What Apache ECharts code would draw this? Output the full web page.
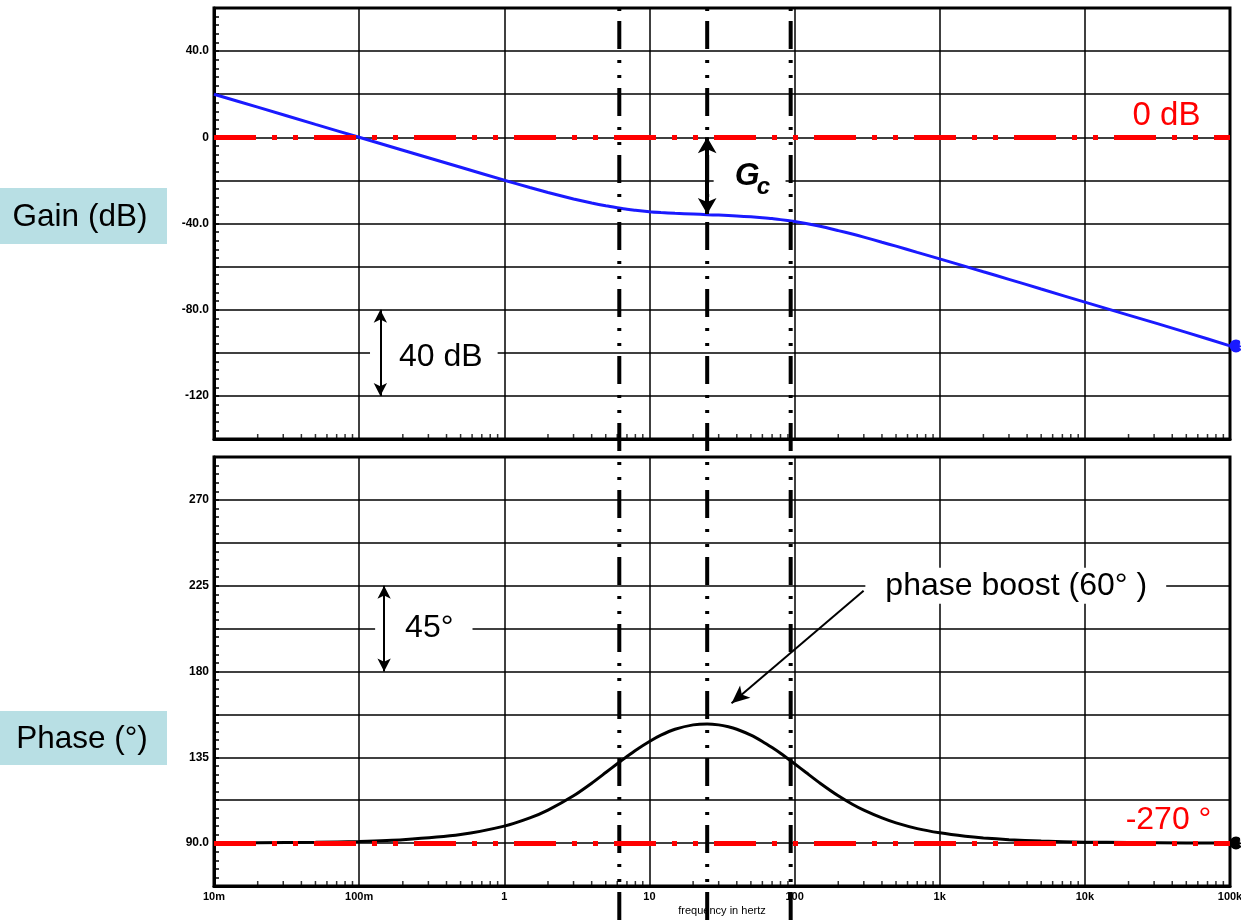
<!DOCTYPE html>
<html>
<head>
<meta charset="utf-8">
<script src="https://cdn.jsdelivr.net/npm/echarts@6/dist/echarts.min.js"></script>
<style>
html, body { margin: 0; padding: 0; background: #fff; }
#bode { width: 1241px; height: 920px; }
</style>
</head>
<body>
<div id="bode"></div>
<script>
// values (frequency in Hz)
const freq = [0.01, 0.02, 0.05, 0.1, 0.2, 0.5, 1, 1.5, 2, 3, 4, 5, 6, 7, 8,
  10, 12, 15, 20, 25, 30, 35, 40, 50, 60, 70, 80,
  100, 120, 150, 200, 250, 300, 400, 500, 700,
  1000, 1500, 2000, 3000, 5000, 10000, 20000, 50000, 100000];
const gainDb = [20.0, 14.0, 6.0, 0.0, -6.0, -13.9, -19.9, -23.3, -25.6, -28.6, -30.5, -31.8, -32.7, -33.4, -33.8,
  -34.5, -34.9, -35.3, -35.6, -35.9, -36.1, -36.3, -36.5, -36.9, -37.3, -37.7, -38.2,
  -39.1, -40.0, -41.3, -43.3, -44.9, -46.3, -48.7, -50.5, -53.4,
  -56.4, -59.9, -62.4, -65.9, -70.4, -76.5, -82.5, -90.5, -96.8];
const phaseDeg = [90.1, 90.2, 90.4, 90.9, 91.8, 94.5, 98.9, 103.2, 107.3, 114.8, 121.4, 127.0, 131.6, 135.4, 138.6,
  143.3, 146.6, 149.7, 152.0, 152.5, 152.0, 151.0, 149.7, 146.6, 143.3, 140.1, 137.1,
  131.6, 127.0, 121.4, 114.8, 110.4, 107.3, 103.2, 100.6, 97.6,
  95.4, 93.6, 92.7, 91.8, 91.1, 90.5, 90.3, 90.1, 90.05];

// zero, crossover and pole frequencies (dash-dot markers)
const markerFreqs = [6.2, 25, 94];

const freqLabels = ["10m", "100m", "1", "10", "100", "1k", "10k", "100k"]; // 1e-2 .. 1e5
const gainLabels = { "40": "40.0", "0": "0", "-40": "-40.0", "-80": "-80.0", "-120": "-120" };
const phaseLabels = { "90": "90.0", "135": "135", "180": "180", "225": "225", "270": "270" };
const minorMantissa = [2, 3, 4, 5, 6, 7, 8, 9];
const decades = [0.01, 0.1, 1, 10, 100, 1000, 10000];

const FONT = "Liberation Sans";
const dashDot = [28, 10, 3, 12, 3, 11];
const redDash = [42, 16, 5, 16, 5, 16];

const chart = echarts.init(document.getElementById("bode"));

const minorTicks = [];
decades.forEach(d => minorMantissa.forEach(m => minorTicks.push(d * m)));

function logAxis(gridIndex, showLabels) {
  return {
    type: "log",
    logBase: 10,
    gridIndex: gridIndex,
    min: 0.01,
    max: 100000,
    splitNumber: 7,
    axisLine: { show: true, onZero: false, lineStyle: { color: "#000", width: 3 } },
    axisTick: { show: false },
    splitLine: { show: true, lineStyle: { color: "#000", width: 1.5 } },
    axisLabel: {
      show: showLabels,
      margin: 5,
      fontFamily: FONT,
      fontSize: 11,
      fontWeight: "bold",
      color: "#000",
      showMinLabel: true,
      showMaxLabel: true,
      hideOverlap: false,
      formatter: v => freqLabels[Math.round(Math.log10(v)) + 2]
    },
    name: showLabels ? "frequency in hertz" : "",
    nameLocation: "middle",
    nameGap: 19,
    nameTextStyle: { fontFamily: FONT, fontSize: 11, color: "#000" }
  };
}

function valueAxis(gridIndex, min, max, interval, labels) {
  return {
    type: "value",
    gridIndex: gridIndex,
    min: min,
    max: max,
    interval: interval,
    axisLine: { show: true, lineStyle: { color: "#000", width: 3 } },
    axisTick: { show: true, inside: true, length: 5, lineStyle: { color: "#000", width: 1.5 } },
    minorTick: { show: true, splitNumber: 5, length: 5, lineStyle: { color: "#000", width: 1.5 } },
    splitLine: { show: true, lineStyle: { color: "#000", width: 1.5 } },
    axisLabel: {
      margin: 5,
      fontFamily: FONT,
      fontSize: 12,
      fontWeight: "bold",
      color: "#000",
      formatter: v => labels[String(Math.round(v * 10) / 10)] || ""
    }
  };
}

function textMark(coord, text, opts) {
  return {
    coord: coord,
    symbol: "circle",
    symbolSize: 1,
    itemStyle: { color: "rgba(0,0,0,0)" },
    label: Object.assign({
      show: true,
      position: "inside",
      formatter: text,
      fontFamily: FONT,
      fontSize: 32,
      color: "#000"
    }, opts || {})
  };
}

function arrow(from, to, width, size, both) {
  return [
    { coord: from, symbol: both ? "arrow" : "none", symbolSize: size },
    { coord: to, symbol: "arrow", symbolSize: size, lineStyle: { color: "#000", width: width, type: "solid" } }
  ];
}

function badge(coord, color) {
  return {
    coord: coord,
    symbol: "circle",
    symbolSize: 13,
    symbolOffset: [6, 0],
    itemStyle: { color: color },
    label: { show: true, position: "inside", offset: [6, 0], formatter: "5", color: "#fff", fontSize: 10, fontFamily: FONT }
  };
}

const option = {
  animation: false,
  backgroundColor: "#fff",
  grid: [
    { left: 214, top: 8, width: 1016, height: 431, show: true, borderColor: "#000", borderWidth: 3, outerBoundsMode: "none", containLabel: false },
    { left: 214, top: 457, width: 1016, height: 429, show: true, borderColor: "#000", borderWidth: 3, outerBoundsMode: "none", containLabel: false },
    { left: 214, top: 8, width: 1016, height: 912, outerBoundsMode: "none", containLabel: false }
  ],
  xAxis: [
    logAxis(0, false),
    logAxis(1, true),
    { type: "log", gridIndex: 2, min: 0.01, max: 100000, show: false }
  ],
  yAxis: [
    valueAxis(0, -140, 60, 20, gainLabels),
    valueAxis(1, 67.5, 292.5, 22.5, phaseLabels),
    { type: "value", gridIndex: 2, min: 0, max: 1, show: false }
  ],
  graphic: [
    { type: "rect", shape: { x: 0, y: 188, width: 167, height: 56 }, style: { fill: "#b8dfe4" } },
    { type: "text", style: { text: "Gain (dB)", x: 80, y: 217, align: "center", verticalAlign: "middle",
        fontFamily: FONT, fontSize: 31.5, fill: "#000" } },
    { type: "rect", shape: { x: 0, y: 711, width: 167, height: 54 }, style: { fill: "#b8dfe4" } },
    { type: "text", style: { text: "Phase (°)", x: 82, y: 739, align: "center", verticalAlign: "middle",
        fontFamily: FONT, fontSize: 31.5, fill: "#000" } }
  ],
  series: [
    {
      name: "gain",
      type: "line",
      xAxisIndex: 0,
      yAxisIndex: 0,
      data: freq.map((f, i) => [f, gainDb[i]]),
      showSymbol: false,
      smooth: 0.2,
      lineStyle: { color: "#1a1aff", width: 3 },
      markLine: {
        silent: true,
        z: 7,
        symbol: "none",
        label: { show: false },
        data: [
          [{ coord: [0.01, 0], symbol: "none" }, { coord: [100000, 0], symbol: "none", lineStyle: { color: "#ff0000", width: 5, type: redDash } }],
          arrow([25, 0], [25, -35.6], 4, [14, 16], true),
          arrow([0.14, -80], [0.14, -120], 2, [10, 13], true)
        ]
      },
      markPoint: {
        silent: true,
        z: 6,
        data: [
          textMark([36500, 9.8], "0 dB", { color: "#ff0000", fontSize: 33 }),
          textMark([0.327, -102], "40 dB", { backgroundColor: "#fff", padding: [2, 15, 2, 29] }),
          textMark([49, -18.1], "G", { fontWeight: "bold", fontStyle: "italic", backgroundColor: "#fff", padding: [0, 26, 0, 21] }),
          textMark([61, -23.3], "c", { fontWeight: "bold", fontStyle: "italic", fontSize: 24 }),
          badge([100000, -96.8], "#1a1aff")
        ]
      }
    },
    {
      name: "phase",
      type: "line",
      xAxisIndex: 1,
      yAxisIndex: 1,
      data: freq.map((f, i) => [f, phaseDeg[i]]),
      showSymbol: false,
      smooth: 0.2,
      lineStyle: { color: "#000", width: 3 },
      markLine: {
        silent: true,
        z: 7,
        symbol: "none",
        label: { show: false },
        data: [
          [{ coord: [0.01, 90], symbol: "none" }, { coord: [100000, 90], symbol: "none", lineStyle: { color: "#ff0000", width: 5, type: redDash } }],
          arrow([0.1486, 225], [0.1486, 180], 2, [10, 13], true),
          arrow([299, 222.4], [36.8, 163.3], 2, [12, 18], false)
        ]
      },
      markPoint: {
        silent: true,
        z: 6,
        data: [
          textMark([37700, 102], "-270 °", { color: "#ff0000" }),
          textMark([0.279, 202.5], "45°", { backgroundColor: "#fff", padding: [2, 19, 2, 30] }),
          textMark([3342, 225], "phase boost (60° )", { backgroundColor: "#fff", padding: [2, 19, 2, 20] }),
          badge([100000, 90.05], "#000")
        ]
      }
    },
    {
      name: "gain minor ticks",
      type: "scatter",
      xAxisIndex: 0,
      yAxisIndex: 0,
      silent: true,
      clip: false,
      data: minorTicks.map(f => [f, -140]),
      symbol: "rect",
      symbolSize: [1.5, 5],
      symbolOffset: [0, -2.5],
      itemStyle: { color: "#000" }
    },
    {
      name: "phase minor ticks",
      type: "scatter",
      xAxisIndex: 1,
      yAxisIndex: 1,
      silent: true,
      clip: false,
      data: minorTicks.map(f => [f, 67.5]),
      symbol: "rect",
      symbolSize: [1.5, 5],
      symbolOffset: [0, -2.5],
      itemStyle: { color: "#000" }
    }
  ].concat(markerFreqs.map(f => ({
    name: "marker " + f,
    type: "line",
    xAxisIndex: 2,
    yAxisIndex: 2,
    silent: true,
    z: 5,
    showSymbol: false,
    data: [[f, 0], [f, 1]],
    lineStyle: { color: "#000", width: 4, type: dashDot }
  })))
};

chart.setOption(option);
</script>
</body>
</html>
